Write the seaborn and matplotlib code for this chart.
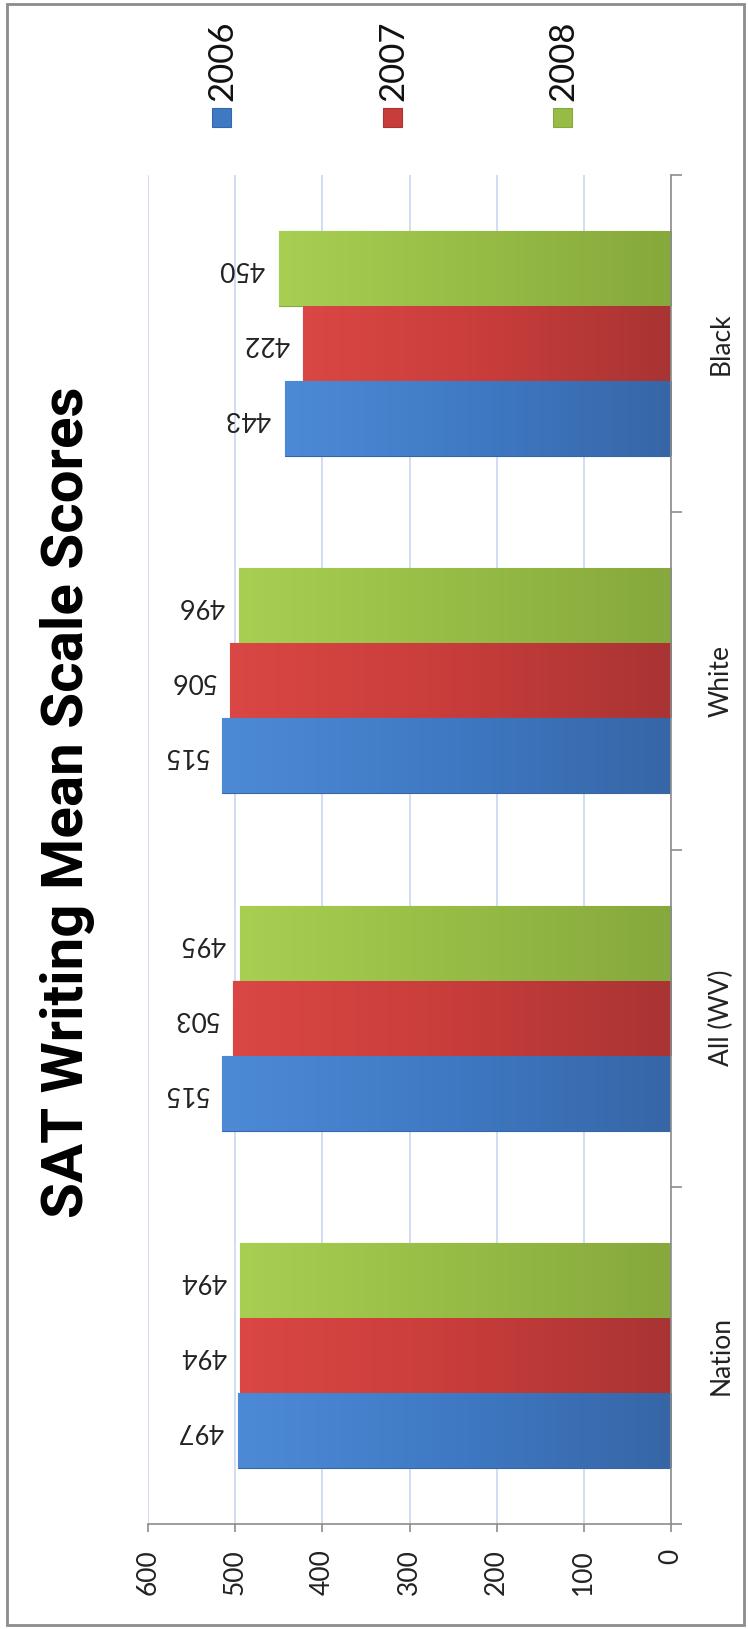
import numpy as np
import pandas as pd
import matplotlib
matplotlib.use("Agg")
import matplotlib.pyplot as plt
import matplotlib.colors as mcolors
from matplotlib.patches import Rectangle
import seaborn as sns

categories = ["Nation", "All (WV)", "White", "Black"]
years = ["2006", "2007", "2008"]
scores_2006 = [497, 515, 515, 443]
scores_2007 = [494, 503, 506, 422]
scores_2008 = [494, 495, 496, 450]
value_ticks = [0, 100, 200, 300, 400, 500, 600]
title_text = "SAT Writing Mean Scale Scores"

light_cols = {"2006": "#4d8ad6", "2007": "#da4744", "2008": "#a8cf52"}
dark_cols = {"2006": "#3666a6", "2007": "#a83433", "2008": "#86a83c"}
mid_cols = {"2006": "#3f79c4", "2007": "#c83d3b", "2008": "#97bc46"}

rows = []
for y, vals in zip(years, [scores_2006, scores_2007, scores_2008]):
    for c, v in zip(categories, vals):
        rows.append({"category": c, "year": y, "score": v})
df = pd.DataFrame(rows)

sns.set_theme(style="white")
plt.rcParams["font.family"] = ["Lato", "DejaVu Sans"]

W, H = 748, 1629
fig = plt.figure(figsize=(W / 100, H / 100), dpi=100)
ax = fig.add_axes([148 / W, 1 - 1524 / H, (671 - 148) / W, (1524 - 175) / H])

sns.barplot(data=df, y="category", x="score", hue="year", order=categories,
            hue_order=years, orient="h", width=0.667, palette=mid_cols,
            ax=ax, legend=False, saturation=1, errorbar=None)

ax.set_xlim(600, 0)
ax.set_ylim(-0.5, len(categories) - 0.5)

# gradient fill on each bar
for cont, y in zip(ax.containers, years):
    cmap = mcolors.LinearSegmentedColormap.from_list("g", [light_cols[y], mid_cols[y], dark_cols[y]])
    grad = np.linspace(0, 1, 256).reshape(1, -1)
    for p in cont.patches:
        p.set_edgecolor(dark_cols[y])
        p.set_linewidth(0.8)
        x0 = p.get_x(); w = p.get_width(); yy = p.get_y(); h = p.get_height()
        xl, xr = max(x0, x0 + w), min(x0, x0 + w)
        im = ax.imshow(grad, extent=[xl, xr, yy, yy + h], aspect="auto",
                       cmap=cmap, zorder=p.get_zorder() + 0.1, origin="lower")
        im.set_clip_path(p)
    labels = [str(int(v)) for v in cont.datavalues]
    ax.bar_label(cont, labels=labels, padding=10, rotation=180, fontsize=19,
                 color="#222222", label_type="edge")

ax.set_ylim(-0.5, len(categories) - 0.5)
ax.set_xlim(600, 0)
ax.set_xticks(value_ticks)
ax.set_xticklabels([str(t) for t in value_ticks])
ax.set_xlabel("")
ax.set_ylabel("")

ax.grid(False)
ax.xaxis.grid(True, color="#c8d8f0", linewidth=1.2)
ax.set_axisbelow(True)

for s in ["top", "left"]:
    ax.spines[s].set_visible(False)
for s in ["bottom", "right"]:
    ax.spines[s].set_color("#8c8c8c")
    ax.spines[s].set_linewidth(1.2)

ax.tick_params(axis="x", bottom=True, length=6, width=1.2, color="#8c8c8c",
               labelrotation=90, labelsize=19, pad=12, labelcolor="#222222")
ax.yaxis.tick_right()
ax.set_yticks(range(len(categories)))
ax.set_yticklabels(categories)
ax.tick_params(axis="y", which="major", right=True, left=False, length=0,
               labelrotation=90, labelsize=19, pad=27, labelcolor="#222222")
ax.set_yticks(np.arange(-0.5, len(categories), 1.0), minor=True)
ax.tick_params(axis="y", which="minor", right=True, left=False, length=8,
               width=1.2, color="#8c8c8c")
for lab in ax.get_yticklabels():
    lab.set_verticalalignment("center")
    lab.set_horizontalalignment("left")

# title
fig.text(68 / W, 1 - 802 / H, title_text, rotation=90, ha="center", va="center",
         fontsize=42, fontweight="bold",
         family=["Liberation Sans Narrow", "Roboto", "DejaVu Sans"], color="black")

# legend
leg_x = [222, 393, 563]
for x, y in zip(leg_x, years):
    fig.patches.append(Rectangle(((x - 10) / W, 1 - 127 / H), 19 / W, 19 / H,
                                 transform=fig.transFigure, facecolor=mid_cols[y],
                                 edgecolor=dark_cols[y], linewidth=0.8))
    fig.text(x / W, 1 - 101 / H, y, rotation=90, ha="center", va="bottom",
             fontsize=25, color="#111111")

# outer border
fig.patches.append(Rectangle((7 / W, 4 / H), (744 - 7) / W, (1625 - 4) / H,
                             transform=fig.transFigure, fill=False,
                             edgecolor="#8c8c8c", linewidth=2))

fig.savefig("out.png", dpi=100)
